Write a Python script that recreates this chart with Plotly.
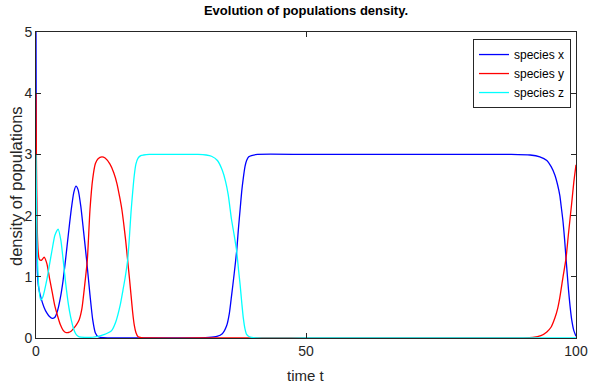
import plotly.graph_objects as go

# species x (blue)
tx = [0, 0.08, 0.25, 0.5, 1.0, 1.5, 2.0, 2.5, 3.0, 3.5, 4.0, 4.5, 5.0, 5.5, 6.0, 6.5, 7.0, 7.4,
      7.8, 8.3, 8.8, 9.4, 10.0, 10.5, 11.0, 11.5, 12.5, 15, 20, 25, 30, 32, 33.5, 34.5, 35.3,
      35.8, 36.2, 36.7, 37.16, 37.5, 37.8, 38.1, 38.4, 38.7, 39.0, 39.4, 39.9, 41, 50, 60, 70, 80,
      88, 91.5, 93.3, 94.6, 95.4, 96.1, 96.6, 97.0, 97.3, 97.6, 97.9, 98.15, 98.4, 98.6, 98.9,
      99.2, 99.6, 100]
vx = [5.0, 2.4, 1.08, 0.82, 0.63, 0.5, 0.41, 0.35, 0.32, 0.34, 0.45, 0.65, 0.93, 1.3, 1.7, 2.08,
      2.38, 2.48, 2.42, 2.15, 1.75, 1.25, 0.7, 0.3, 0.08, 0.02, 0.005, 0.0, 0.0, 0.0, 0.003,
      0.008, 0.025, 0.07, 0.2, 0.4, 0.68, 1.05, 1.42, 1.8, 2.1, 2.4, 2.62, 2.8, 2.9, 2.96, 2.98,
      3.0, 3.0, 3.0, 3.0, 3.0, 3.0, 2.99, 2.96, 2.9, 2.8, 2.66, 2.5, 2.33, 2.12, 1.9, 1.6, 1.3,
      1.02, 0.8, 0.52, 0.3, 0.12, 0.03]

# species y (red)
ty = [0, 0.08, 0.2, 0.4, 0.6, 1.0, 1.5, 2.0, 2.5, 3.0, 3.5, 4.0, 4.5, 5.0, 5.5, 6.0, 6.5, 7.0,
      7.5, 8.0, 8.5, 9.0, 9.5, 10.0, 10.5, 11.0, 11.5, 12.2, 12.8, 13.7, 14.4, 15.0, 15.5, 15.9,
      16.2, 16.6, 16.97, 17.3, 17.6, 17.9, 18.2, 18.5, 18.9, 19.5, 21, 30, 50, 70, 85, 90, 92,
      93.5, 94.6, 95.4, 96.1, 96.6, 97.0, 97.6, 98.15, 98.6, 99.2, 99.6, 100]
vy = [4.0, 2.9, 1.9, 1.42, 1.29, 1.27, 1.32, 1.22, 0.98, 0.75, 0.52, 0.36, 0.22, 0.13, 0.09, 0.09,
      0.11, 0.16, 0.22, 0.3, 0.48, 0.85, 1.27, 2.1, 2.6, 2.85, 2.93, 2.96, 2.94, 2.84, 2.7, 2.52,
      2.3, 2.1, 1.9, 1.6, 1.27, 0.98, 0.7, 0.42, 0.21, 0.09, 0.02, 0.005, 0.0, 0.0, 0.0, 0.0,
      0.0, 0.003, 0.01, 0.04, 0.1, 0.18, 0.33, 0.48, 0.66, 1.0, 1.3, 1.7, 2.2, 2.55, 2.83]

# species z (cyan)
tz = [0, 0.08, 0.25, 0.5, 0.87, 1.3, 2.0, 2.5, 3.0, 3.5, 4.1, 4.6, 5.0, 5.5, 6.0, 6.4, 7.0, 7.5,
      8.0, 9.0, 10.0, 11.0, 12.0, 13.0, 14.0, 14.8, 15.6, 16.1, 16.5, 16.97, 17.3, 17.6, 17.9,
      18.2, 18.5, 18.9, 19.4, 19.9, 21, 25, 30, 31.5, 32.5, 33.6, 34.5, 35.1, 35.6, 36.2, 36.7,
      37.16, 37.5, 37.8, 38.1, 38.4, 38.7, 39.0, 39.5, 41, 50, 70, 90, 100]
vz = [3.0, 2.2, 1.35, 0.85, 0.62, 0.68, 0.95, 1.2, 1.45, 1.68, 1.78, 1.6, 1.3, 0.89, 0.55, 0.35,
      0.14, 0.05, 0.02, 0.01, 0.01, 0.02, 0.04, 0.07, 0.12, 0.27, 0.54, 0.78, 0.98, 1.27, 1.65,
      2.06, 2.38, 2.66, 2.84, 2.94, 2.98, 2.99, 3.0, 3.0, 3.0, 2.99, 2.97, 2.9, 2.74, 2.56, 2.34,
      1.94, 1.68, 1.42, 1.12, 0.87, 0.58, 0.32, 0.15, 0.06, 0.02, 0.0, 0.0, 0.0, 0.0, 0.0]

x_ticks = [0, 50, 100]
y_ticks = [0, 1, 2, 3, 4, 5]

FONT = "Liberation Sans, Arial"
W, H = 590, 383
ML, MR, MT, MB = 36, 14, 32, 45

fig = go.Figure()
for t, v, name, col in [(tx, vx, "species x", "#0000ff"),
                        (ty, vy, "species y", "#ff0000"),
                        (tz, vz, "species z", "#00ffff")]:
    fig.add_trace(go.Scatter(x=t, y=v, mode="lines", name=name,
                             line=dict(color=col, width=1.3, shape="spline", smoothing=0.6)))

axis_common = dict(showline=True, linecolor="#262626", linewidth=1, mirror="ticks",
                   ticks="inside", ticklen=5, tickcolor="#262626", showgrid=False,
                   zeroline=False, automargin=False,
                   tickfont=dict(family=FONT, size=14, color="#262626"))

pw, ph = W - ML - MR, H - MT - MB
fig.update_layout(
    width=W, height=H,
    margin=dict(l=ML, r=MR, t=MT, b=MB, autoexpand=False),
    paper_bgcolor="white", plot_bgcolor="white",
    title=dict(text="<b>Evolution of populations density.</b>", x=(ML + pw / 2) / W, xanchor="center",
               y=1 - 10 / H, yanchor="middle",
               font=dict(family=FONT, size=13, color="black")),
    xaxis=dict(range=[0, 100], tickvals=x_ticks, **axis_common),
    yaxis=dict(range=[0, 5], tickvals=y_ticks, **axis_common),
    legend=dict(x=0.9907, y=0.977, xanchor="right", yanchor="top",
                bordercolor="#262626", borderwidth=1, bgcolor="white",
                font=dict(family=FONT, size=12, color="black"),
                itemwidth=30, tracegroupgap=0),
    showlegend=True,
    annotations=[
        dict(text="time t", xref="paper", yref="paper", x=0.5, y=-(375 - (H - MB)) / ph,
             xanchor="center", yanchor="middle", showarrow=False,
             font=dict(family=FONT, size=15, color="#262626")),
        dict(text="density of populations", xref="paper", yref="paper",
             x=-(ML - 16) / pw, y=(H - MB - 186) / ph, textangle=-90,
             xanchor="center", yanchor="middle", showarrow=False,
             font=dict(family=FONT, size=16.5, color="#262626")),
    ],
)

fig.write_html("out.html")
